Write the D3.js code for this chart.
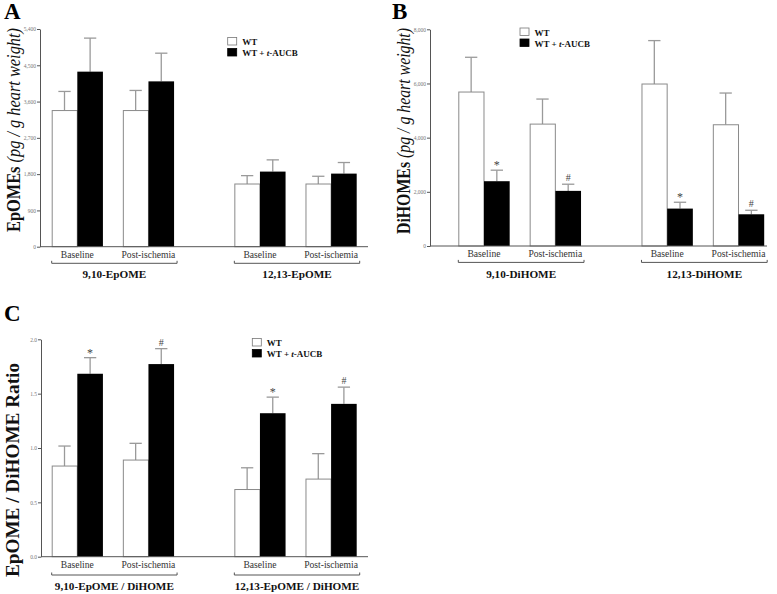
<!DOCTYPE html>
<html><head><meta charset="utf-8">
<script src="https://cdn.jsdelivr.net/npm/d3@7"></script>
<style>
html,body{margin:0;padding:0;background:#fff;}
svg{display:block;}
text{font-family:"Liberation Serif","Times New Roman",serif;}
</style></head>
<body>
<script>
// ---- data ----
const conditions = ["Baseline", "Post-ischemia"];
const seriesNames = ["WT", "WT + t-AUCB"];

const groupsA = ["9,10-EpOME", "12,13-EpOME"];
const wtA = [3377, 3377, 1555, 1555];
const wtSemA = [474, 499, 208, 192];
const aucbA = [4342, 4101, 1863, 1813];
const aucbSemA = [832, 699, 291, 275];
const marksA = ["", "", "", ""];
const ticksA = [0, 900, 1800, 2700, 3600, 4500, 5400];

const groupsB = ["9,10-DiHOME", "12,13-DiHOME"];
const wtB = [5684, 4500, 5980, 4476];
const wtSemB = [1283, 925, 1603, 1171];
const aucbB = [2392, 2035, 1381, 1171];
const aucbSemB = [407, 246, 234, 148];
const marksB = ["*", "#", "*", "#"];
const ticksB = [0, 2000, 4000, 6000, 8000];

const groupsC = ["9,10-EpOME / DiHOME", "12,13-EpOME / DiHOME"];
const wtC = [0.834, 0.889, 0.618, 0.714];
const wtSemC = [0.184, 0.154, 0.200, 0.234];
const aucbC = [1.683, 1.772, 1.320, 1.406];
const aucbSemC = [0.148, 0.142, 0.148, 0.154];
const marksC = ["*", "#", "*", "#"];
const ticksC = [0, 0.5, 1.0, 1.5, 2.0];

const W = 777, H = 594;
const svg = d3.select("body").append("svg").attr("width", W).attr("height", H);

function drawPanel(p) {
  const g = svg.append("g");
  const y = d3.scaleLinear().domain([0, p.yMax]).range([p.y0, p.yTop]);
  const xg = d3.scaleBand().domain(p.groups).range([p.barL, p.barR]).paddingInner(0.33).paddingOuter(0);
  const xc = d3.scaleBand().domain(conditions).range([0, xg.bandwidth()]).paddingInner(0.28).paddingOuter(0);
  const xs = d3.scaleBand().domain(seriesNames).range([0, xc.bandwidth()]).padding(0);

  // rows
  const rows = [];
  p.groups.forEach((grp, gi) => {
    conditions.forEach((c, ci) => {
      const i = gi * 2 + ci;
      rows.push({grp, c, s: seriesNames[0], v: p.wt[i], e: p.wtSem[i], m: ""});
      rows.push({grp, c, s: seriesNames[1], v: p.aucb[i], e: p.aucbSem[i], m: p.marks[i]});
    });
  });
  const bx = d => xg(d.grp) + xc(d.c) + xs(d.s);
  const bw = xs.bandwidth();

  // error bars
  const capW = bw * 0.48;
  const eb = g.append("g").attr("stroke", "#9a9a9a").attr("stroke-width", 1.3);
  rows.forEach(d => {
    const cx = bx(d) + bw / 2;
    eb.append("line").attr("x1", cx).attr("x2", cx).attr("y1", y(d.v)).attr("y2", y(d.v + d.e));
    eb.append("line").attr("x1", cx - capW / 2).attr("x2", cx + capW / 2).attr("y1", y(d.v + d.e)).attr("y2", y(d.v + d.e));
  });

  // bars
  g.append("g").selectAll("rect").data(rows).join("rect")
    .attr("x", d => bx(d) + (d.s === seriesNames[0] ? 0.5 : 0))
    .attr("y", d => y(d.v))
    .attr("width", d => d.s === seriesNames[0] ? bw - 0.5 : bw)
    .attr("height", d => y(0) - y(d.v))
    .attr("fill", d => d.s === seriesNames[0] ? "#fff" : "#000")
    .attr("stroke", d => d.s === seriesNames[0] ? "#8a8a8a" : "none")
    .attr("stroke-width", 1);

  // significance marks
  g.append("g").selectAll("text").data(rows.filter(d => d.m)).join("text")
    .attr("x", d => bx(d) + bw / 2)
    .attr("y", d => y(d.v + d.e) - (d.m === "*" ? 1 : 3))
    .attr("text-anchor", "middle").attr("font-size", d => d.m === "*" ? 12 : 10)
    .attr("fill", "#444").text(d => d.m);

  // y axis
  const ax = g.append("g").attr("transform", `translate(${p.axisX},0)`)
    .call(d3.axisLeft(y).tickValues(p.ticks).tickSize(3).tickSizeOuter(0).tickPadding(1).tickFormat(p.fmt));
  ax.select(".domain").attr("stroke", "#555");
  ax.selectAll(".tick line").attr("stroke", "#555");
  ax.selectAll(".tick text").attr("font-size", 5.5).attr("fill", "#777")
    .attr("font-family", "'Liberation Serif','Times New Roman',serif");

  // x axis line
  g.append("line").attr("x1", p.axisX).attr("x2", p.axisEnd).attr("y1", y(0)).attr("y2", y(0))
    .attr("stroke", "#555").attr("stroke-width", 1);

  // category labels
  p.groups.forEach(grp => {
    conditions.forEach(c => {
      g.append("text").attr("x", xg(grp) + xc(c) + xc.bandwidth() / 2).attr("y", y(0) + p.catDy)
        .attr("text-anchor", "middle").attr("font-size", 9.6).attr("fill", "#333").text(c);
    });
    const x1 = xg(grp), x2 = xg(grp) + xg.bandwidth() + 3, by = y(0) + p.brDy;
    g.append("path").attr("d", `M${x1},${by - 2.5}V${by}H${x2}V${by - 2.5}`)
      .attr("fill", "none").attr("stroke", "#555").attr("stroke-width", 1);
    g.append("text").attr("x", (x1 + x2) / 2).attr("y", y(0) + p.grpDy)
      .attr("text-anchor", "middle").attr("font-size", 11.2).attr("font-weight", "bold").attr("fill", "#111").text(grp);
  });

  // y title
  const t = g.append("text")
    .attr("transform", `translate(${p.titleX},${p.titleY}) rotate(-90)`)
    .attr("text-anchor", "middle").attr("font-size", 18).attr("fill", "#111")
    .attr("textLength", p.titleLen).attr("lengthAdjust", "spacingAndGlyphs");
  t.append("tspan").attr("font-weight", "bold").text(p.titleBold);
  if (p.titleItal) t.append("tspan").attr("font-style", "italic").text(p.titleItal);

  // panel letter
  g.append("text").attr("x", p.letterX).attr("y", p.letterY).attr("font-size", 23)
    .attr("font-weight", "bold").attr("fill", "#000").text(p.letter);

  // legend
  const lg = g.append("g").attr("transform", `translate(${p.legX},${p.legY})`);
  seriesNames.forEach((s, i) => {
    lg.append("rect").attr("x", 0).attr("y", i * 11).attr("width", 9).attr("height", 7.5)
      .attr("fill", i === 0 ? "#fff" : "#000").attr("stroke", i === 0 ? "#777" : "#000").attr("stroke-width", 0.8);
    const tx = lg.append("text").attr("x", 14.5).attr("y", i * 11 + 7.5).attr("font-size", 9)
      .attr("font-weight", "bold").attr("fill", "#111");
    if (i === 0) tx.text(s);
    else {
      tx.append("tspan").text("WT + ");
      tx.append("tspan").attr("font-style", "italic").text("t");
      tx.append("tspan").text("-AUCB");
    }
  });
}

drawPanel({
  letter: "A", letterX: 4, letterY: 19,
  groups: groupsA, wt: wtA, wtSem: wtSemA, aucb: aucbA, aucbSem: aucbSemA, marks: marksA,
  ticks: ticksA, fmt: d3.format(","), yMax: 5400,
  y0: 246.7, yTop: 29, axisX: 40, axisEnd: 368, barL: 51.7, barR: 356.7,
  catDy: 11, brDy: 16.6, grpDy: 31.3,
  titleX: 20, titleY: 130, titleLen: 204, titleBold: "EpOMEs", titleItal: " (pg / g heart weight)",
  legX: 227.7, legY: 37.5
});

drawPanel({
  letter: "B", letterX: 392, letterY: 19,
  groups: groupsB, wt: wtB, wtSem: wtSemB, aucb: aucbB, aucbSem: aucbSemB, marks: marksB,
  ticks: ticksB, fmt: d3.format(","), yMax: 8000,
  y0: 246, yTop: 29.3, axisX: 430, axisEnd: 767, barL: 458.3, barR: 764.2,
  catDy: 11, brDy: 16.4, grpDy: 31.5,
  titleX: 410, titleY: 131, titleLen: 206, titleBold: "DiHOMEs", titleItal: " (pg / g heart weight)",
  legX: 520, legY: 28
});

drawPanel({
  letter: "C", letterX: 4, letterY: 321,
  groups: groupsC, wt: wtC, wtSem: wtSemC, aucb: aucbC, aucbSem: aucbSemC, marks: marksC,
  ticks: ticksC, fmt: d3.format(".1f"), yMax: 2,
  y0: 556.7, yTop: 339.3, axisX: 41, axisEnd: 368, barL: 51.7, barR: 356.7,
  catDy: 11, brDy: 18.3, grpDy: 33.3,
  titleX: 19, titleY: 470, titleLen: 214, titleBold: "EpOME / DiHOME Ratio", titleItal: "",
  legX: 252.3, legY: 338.5
});
</script>
</body></html>
